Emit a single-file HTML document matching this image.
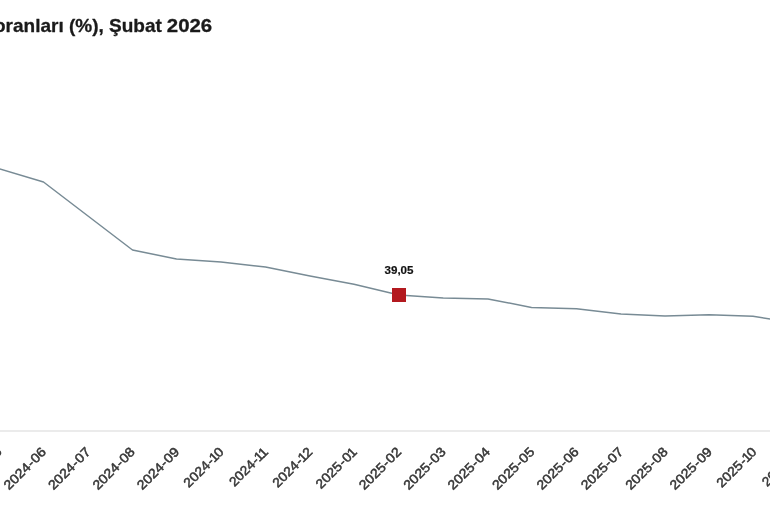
<!DOCTYPE html>
<html><head><meta charset="utf-8">
<style>
html,body{margin:0;padding:0;background:#fff;}
body{width:770px;height:510px;overflow:hidden;position:relative;font-family:"Liberation Sans",sans-serif;}
svg{position:absolute;left:0;top:0;display:block;will-change:transform;opacity:0.999}
text{font-family:"Liberation Sans",sans-serif;}
</style></head>
<body>
<svg width="770" height="510" viewBox="0 0 770 510">
<rect width="770" height="510" fill="#ffffff"/>
<g font-size="19" font-weight="bold" fill="#1a1a1a" stroke="#1a1a1a" stroke-width="0.3" stroke-linejoin="round">
<text x="-6" y="32">oranları (%), Şubat</text>
<text transform="translate(166.8,32) scale(1.075,1)">2026</text>
</g>
<line x1="0" y1="431" x2="770" y2="431" stroke="#ebebeb" stroke-width="1.9"/>
<polyline fill="none" stroke="#788b95" stroke-width="1.5" stroke-linejoin="round"
 points="-1.5,168.5 43.5,182 132.5,250 176.5,259 221,262 265.5,267 310,276.0 354,284.3 399,295 443.2,298.1 488,298.9 531.5,307.4 576.5,308.8 621,314.1 665,316 709,314.8 753,316.3 797,323.5"/>
<rect x="392" y="288" width="14" height="14" fill="#b3191f"/>
<text x="399" y="273.6" font-size="11.6" font-weight="bold" fill="#111" stroke="#111" stroke-width="0.2" text-anchor="middle">39,05</text>
<g font-size="13.1" fill="#383838" stroke="#383838" stroke-width="0.5" text-anchor="end">
<text transform="translate(2.5,452.7) rotate(-45) scale(1.090,1)">2024<tspan dx="0.5">-</tspan><tspan dx="0.5">0</tspan>5</text>
<text transform="translate(46.9,452.7) rotate(-45) scale(1.090,1)">2024<tspan dx="0.5">-</tspan><tspan dx="0.5">0</tspan>6</text>
<text transform="translate(91.3,452.7) rotate(-45) scale(1.090,1)">2024<tspan dx="0.5">-</tspan><tspan dx="0.5">0</tspan>7</text>
<text transform="translate(135.7,452.7) rotate(-45) scale(1.090,1)">2024<tspan dx="0.5">-</tspan><tspan dx="0.5">0</tspan>8</text>
<text transform="translate(180.1,452.7) rotate(-45) scale(1.090,1)">2024<tspan dx="0.5">-</tspan><tspan dx="0.5">0</tspan>9</text>
<text transform="translate(224.5,452.7) rotate(-45) scale(1.075,1)">2024<tspan dx="0.5">-</tspan><tspan dx="-0.7" letter-spacing="-1.0">1</tspan>0</text>
<text transform="translate(268.9,452.7) rotate(-45) scale(1.060,1)">2024<tspan dx="0.5">-</tspan><tspan dx="-0.7" letter-spacing="-1.0">1</tspan><tspan dx="-0.8">1</tspan></text>
<text transform="translate(313.3,452.7) rotate(-45) scale(1.075,1)">2024<tspan dx="0.5">-</tspan><tspan dx="-0.7" letter-spacing="-1.0">1</tspan>2</text>
<text transform="translate(357.7,452.7) rotate(-45) scale(1.075,1)">2025<tspan dx="0.5">-</tspan><tspan dx="0.5">0</tspan><tspan dx="-0.8">1</tspan></text>
<text transform="translate(402.1,452.7) rotate(-45) scale(1.090,1)">2025<tspan dx="0.5">-</tspan><tspan dx="0.5">0</tspan>2</text>
<text transform="translate(446.5,452.7) rotate(-45) scale(1.090,1)">2025<tspan dx="0.5">-</tspan><tspan dx="0.5">0</tspan>3</text>
<text transform="translate(490.9,452.7) rotate(-45) scale(1.090,1)">2025<tspan dx="0.5">-</tspan><tspan dx="0.5">0</tspan>4</text>
<text transform="translate(535.3,452.7) rotate(-45) scale(1.090,1)">2025<tspan dx="0.5">-</tspan><tspan dx="0.5">0</tspan>5</text>
<text transform="translate(579.7,452.7) rotate(-45) scale(1.090,1)">2025<tspan dx="0.5">-</tspan><tspan dx="0.5">0</tspan>6</text>
<text transform="translate(624.1,452.7) rotate(-45) scale(1.090,1)">2025<tspan dx="0.5">-</tspan><tspan dx="0.5">0</tspan>7</text>
<text transform="translate(668.5,452.7) rotate(-45) scale(1.090,1)">2025<tspan dx="0.5">-</tspan><tspan dx="0.5">0</tspan>8</text>
<text transform="translate(712.9,452.7) rotate(-45) scale(1.090,1)">2025<tspan dx="0.5">-</tspan><tspan dx="0.5">0</tspan>9</text>
<text transform="translate(757.3,452.7) rotate(-45) scale(1.075,1)">2025<tspan dx="0.5">-</tspan><tspan dx="-0.7" letter-spacing="-1.0">1</tspan>0</text>
<text transform="translate(801.7,452.7) rotate(-45) scale(1.060,1)">2025<tspan dx="0.5">-</tspan><tspan dx="-0.7" letter-spacing="-1.0">1</tspan><tspan dx="-0.8">1</tspan></text>
</g>
</svg>
</body></html>
